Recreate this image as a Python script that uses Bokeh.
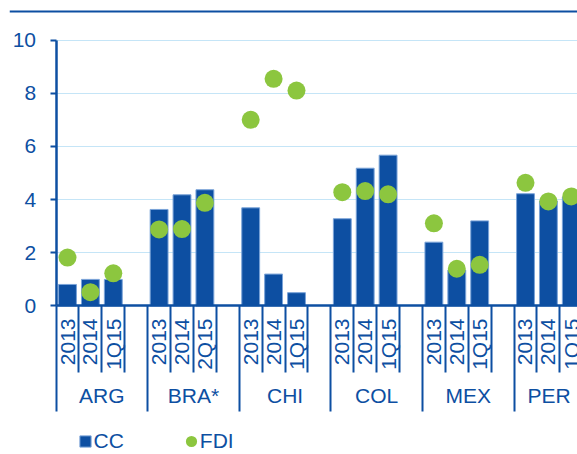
import math
from bokeh.plotting import figure
from bokeh.models import (Span, FixedTicker, LinearAxis, Legend, LegendItem,
                          ColumnDataSource, Range1d, Grid)
from bokeh.embed import file_html
from bokeh.resources import INLINE
from bokeh.core.properties import value

# ---------------- data ----------------
countries = ["ARG", "BRA*", "CHI", "COL", "MEX", "PER"]
periods = [
    ["2013", "2014", "1Q15"],
    ["2013", "2014", "2Q15"],
    ["2013", "2014", "1Q15"],
    ["2013", "2014", "1Q15"],
    ["2013", "2014", "1Q15"],
    ["2013", "2014", "1Q15"],
]
cc = [
    [0.81, 1.00, 1.00],
    [3.63, 4.18, 4.37],
    [3.69, 1.20, 0.50],
    [3.28, 5.18, 5.67],
    [2.40, 1.35, 3.20],
    [4.22, 3.95, 4.10],
]
fdi = [
    [1.82, 0.52, 1.23],
    [2.88, 2.89, 3.88],
    [7.00, 8.54, 8.10],
    [4.28, 4.32, 4.20],
    [3.11, 1.40, 1.55],
    [4.63, 3.93, 4.12],
]
y_ticks = [0, 2, 4, 6, 8, 10]

# ---------------- style ----------------
BLUE = "#0d4fa2"
GREEN = "#8cc63f"
GRID = "#c5e5f7"
FONT = value("Liberation Sans")
FS = "21px"
SLOTS = 4  # 3 periods + 1 empty slot per country

X_START, X_END = -2.533, 22.271
Y_START, Y_END = -5.583, 11.485

# positions derived from category indexes
xs, cc_vals, fdi_vals, sub_labels = [], [], [], []
for g, (pers, c_row, f_row) in enumerate(zip(periods, cc, fdi)):
    for s, (per, c, f) in enumerate(zip(pers, c_row, f_row)):
        xs.append(g * SLOTS + s)
        cc_vals.append(c)
        fdi_vals.append(f)
        sub_labels.append(per)

src = ColumnDataSource(dict(x=xs, cc=cc_vals, fdi=fdi_vals, lab=sub_labels))

p = figure(width=577, height=454, output_backend="svg", toolbar_location=None, title=None,
           x_range=Range1d(X_START, X_END), y_range=Range1d(Y_START, Y_END),
           x_axis_location=None, y_axis_location=None,
           min_border_left=9, min_border_right=0, min_border_top=0, min_border_bottom=0)
p.outline_line_color = None
p.background_fill_color = "white"
p.border_fill_color = "white"
# hide any default grids
for r in list(p.center):
    if isinstance(r, Grid):
        r.visible = False

# grid (only right of the value axis)
AXIS_X = -0.5
p.add_layout(Grid(dimension=1, ticker=FixedTicker(ticks=y_ticks[1:]),
                  cross_bounds=(AXIS_X, X_END),
                  grid_line_color=GRID, grid_line_width=1.2))

# top rule
p.add_layout(Span(location=11.07, dimension="width", line_color=BLUE, line_width=2))

bars = p.vbar(x="x", top="cc", bottom=0, width=0.78, source=src,
              fill_color=BLUE, line_color="#7aa3d8", line_width=1)
dots = p.ellipse(x="x", y="fdi", width=18, height=18, width_units="screen",
                 height_units="screen", source=src, fill_color=GREEN, line_color=None)

# value axis
yaxis = LinearAxis(ticker=FixedTicker(ticks=y_ticks), bounds=(0, 10), fixed_location=AXIS_X,
                   axis_line_color=BLUE, axis_line_width=2.5,
                   major_tick_line_color=BLUE, major_tick_line_width=2,
                   major_tick_out=6, major_tick_in=0,
                   minor_tick_line_color=None,
                   major_label_text_font="Liberation Sans",
                   major_label_text_font_size=FS,
                   major_label_text_color=BLUE,
                   major_label_standoff=14)
p.add_layout(yaxis, "left")

# category axis: long ticks between countries, short ticks between periods
grp_bounds = [g * SLOTS - 0.5 for g in range(len(countries))]
sub_bounds = [g * SLOTS + s - 0.5 for g in range(len(countries)) for s in range(1, SLOTS)]
xaxis = LinearAxis(ticker=FixedTicker(ticks=grp_bounds, minor_ticks=sub_bounds),
                   bounds=(AXIS_X, X_END), fixed_location=0,
                   axis_line_color=BLUE, axis_line_width=2.5,
                   major_tick_line_color=BLUE, major_tick_line_width=2,
                   major_tick_out=106, major_tick_in=0,
                   minor_tick_line_color=BLUE, minor_tick_line_width=2,
                   minor_tick_out=67, minor_tick_in=0,
                   major_label_overrides={t: "" for t in grp_bounds})
p.add_layout(xaxis, "below")

# period labels (vertical)
p.text(x="x", y=-0.47, text="lab", source=src, angle=math.pi / 2,
       text_align="right", text_baseline="middle",
       text_font=FONT, text_font_size=FS, text_color=BLUE)

# country labels (kept inside the visible area)
gx, galign = [], []
for g in range(len(countries)):
    center = g * SLOTS + (SLOTS - 1) / 2
    if g * SLOTS + SLOTS - 0.5 > X_END:
        gx.append(X_END - 0.3)
        galign.append("right")
    else:
        gx.append(center)
        galign.append("center")
gsrc = ColumnDataSource(dict(x=gx, t=countries, a=galign))
p.text(x="x", y=-3.36, text="t", source=gsrc, text_align="a", text_baseline="middle",
       text_font=FONT, text_font_size=FS, text_color=BLUE)

# legend
legend = Legend(items=[LegendItem(label="CC", renderers=[bars]),
                       LegendItem(label="FDI", renderers=[dots])],
                orientation="horizontal", location=(68.5, 1),
                glyph_width=14, glyph_height=14, label_standoff=2, spacing=60,
                padding=0, margin=0, border_line_alpha=0, background_fill_alpha=0,
                label_text_font="Liberation Sans", label_text_font_size=FS,
                label_text_color=BLUE)
p.add_layout(legend)

open("out.html", "w").write(file_html(p, INLINE))
